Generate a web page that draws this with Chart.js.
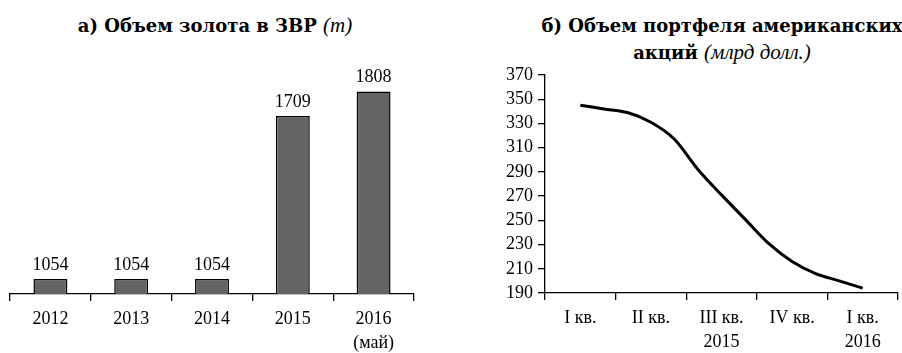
<!DOCTYPE html>
<html>
<head>
<meta charset="utf-8">
<script src="https://cdn.jsdelivr.net/npm/chart.js@4.4.1/dist/chart.umd.min.js"></script>
<style>
    body { margin: 0; background: #fff; width: 902px; height: 353px; overflow: hidden; position: relative; font-family: 'DejaVu Serif', serif; }
    .title { position: absolute; text-align: center; font-weight: bold; font-size: 18px; line-height: 27px; color: #000; white-space: nowrap; }
    .title i { font-weight: normal; font-family: 'Liberation Serif', serif; font-size: 21px; }
    #titleA { left: 0; top: 12px; width: 430px; }
    #titleB { left: 522px; top: 12px; width: 400px; }
    canvas { position: absolute; top: 60px; }
    #goldChart { left: 0; }
    #stockChart { left: 450px; }
</style>
</head>
<body>
<div class="title" id="titleA">а) Объем золота в ЗВР <i>(т)</i></div>
<div class="title" id="titleB">б) Объем портфеля американских<br>акций <i>(млрд долл.)</i></div>
<canvas id="goldChart" width="450" height="293"></canvas>
<canvas id="stockChart" width="452" height="293"></canvas>
<script>
// a) gold in reserves, tonnes
const goldYears = ['2012', '2013', '2014', '2015', ['2016', '(май)']];
const goldTonnes = [1054, 1054, 1054, 1709, 1808];

// b) US stock portfolio, bn USD (monthly, Feb 2015 .. Feb 2016)
const quarterLabels = [['I кв.', ''], ['II кв.', ''], ['III кв.', '2015'], ['IV кв.', ''], ['I кв.', '2016']];
const monthLabels = ['01.2015', '02.2015', '03.2015', '04.2015', '05.2015', '06.2015', '07.2015', '08.2015',
    '09.2015', '10.2015', '11.2015', '12.2015', '01.2016', '02.2016', '03.2016'];
const stockValues = [null, 345, 342, 339, 331, 317, 292, 271, 251, 231, 216, 206, 200, 194, null];

const serif = "'Liberation Serif', 'DejaVu Serif', serif";
const tickFont = { family: serif, size: 18 };

const valueLabels = {
    id: 'valueLabels',
    afterDatasetsDraw(chart) {
        const ctx = chart.ctx;
        const meta = chart.getDatasetMeta(0);
        ctx.save();
        ctx.fillStyle = '#000';
        ctx.font = "18px " + serif;
        ctx.textAlign = 'center';
        ctx.textBaseline = 'bottom';
        meta.data.forEach((bar, i) => {
            ctx.fillText(String(goldTonnes[i]), bar.x, bar.y - 5);
        });
        ctx.restore();
    }
};

new Chart(document.getElementById('goldChart'), {
    type: 'bar',
    data: {
        labels: goldYears,
        datasets: [{
            data: goldTonnes,
            backgroundColor: '#646464',
            borderColor: '#000',
            borderWidth: 1.5,
            barPercentage: 0.42,
            categoryPercentage: 1
        }]
    },
    options: {
        responsive: false,
        animation: false,
        devicePixelRatio: 1,
        layout: { padding: { left: 10, right: 36, top: 10, bottom: 0 } },
        plugins: { legend: { display: false }, tooltip: { enabled: false } },
        scales: {
            x: {
                grid: { offset: true, drawOnChartArea: false, tickLength: 7, color: '#000', lineWidth: 1.3 },
                border: { color: '#000', width: 1.3 },
                ticks: { color: '#000', font: { ...tickFont, lineHeight: 1.3 }, padding: 7, maxRotation: 0, autoSkip: false },
                afterFit: (scale) => { scale.height = 59; }
            },
            y: { display: false, min: 994, max: 1894 }
        }
    },
    plugins: [valueLabels]
});

new Chart(document.getElementById('stockChart'), {
    type: 'line',
    data: {
        datasets: [{
            data: stockValues,
            xAxisID: 'xm',
            borderColor: '#000',
            borderWidth: 3,
            pointRadius: 0,
            cubicInterpolationMode: 'monotone',
            fill: false
        }]
    },
    options: {
        responsive: false,
        animation: false,
        devicePixelRatio: 1,
        layout: { padding: { left: 0, right: 4, top: 15, bottom: 0 } },
        plugins: { legend: { display: false }, tooltip: { enabled: false } },
        scales: {
            x: {
                type: 'category',
                labels: quarterLabels,
                offset: true,
                grid: { offset: true, drawOnChartArea: false, tickLength: 7, color: '#000', lineWidth: 1.3 },
                border: { color: '#000', width: 1.3 },
                ticks: { color: '#000', font: { ...tickFont, lineHeight: 1.3 }, padding: 7, maxRotation: 0, autoSkip: false },
                afterFit: (scale) => { scale.height = 60; }
            },
            xm: {
                type: 'category',
                labels: monthLabels,
                offset: true,
                display: false
            },
            y: {
                min: 190,
                max: 370,
                grid: { drawOnChartArea: false, tickLength: 7, color: '#000', lineWidth: 1.3 },
                border: { color: '#000', width: 1.3 },
                ticks: { stepSize: 20, color: '#000', font: { ...tickFont, lineHeight: 1 }, padding: 5, autoSkip: false },
                afterFit: (scale) => { scale.width = 95; }
            }
        }
    }
});
</script>
</body>
</html>
